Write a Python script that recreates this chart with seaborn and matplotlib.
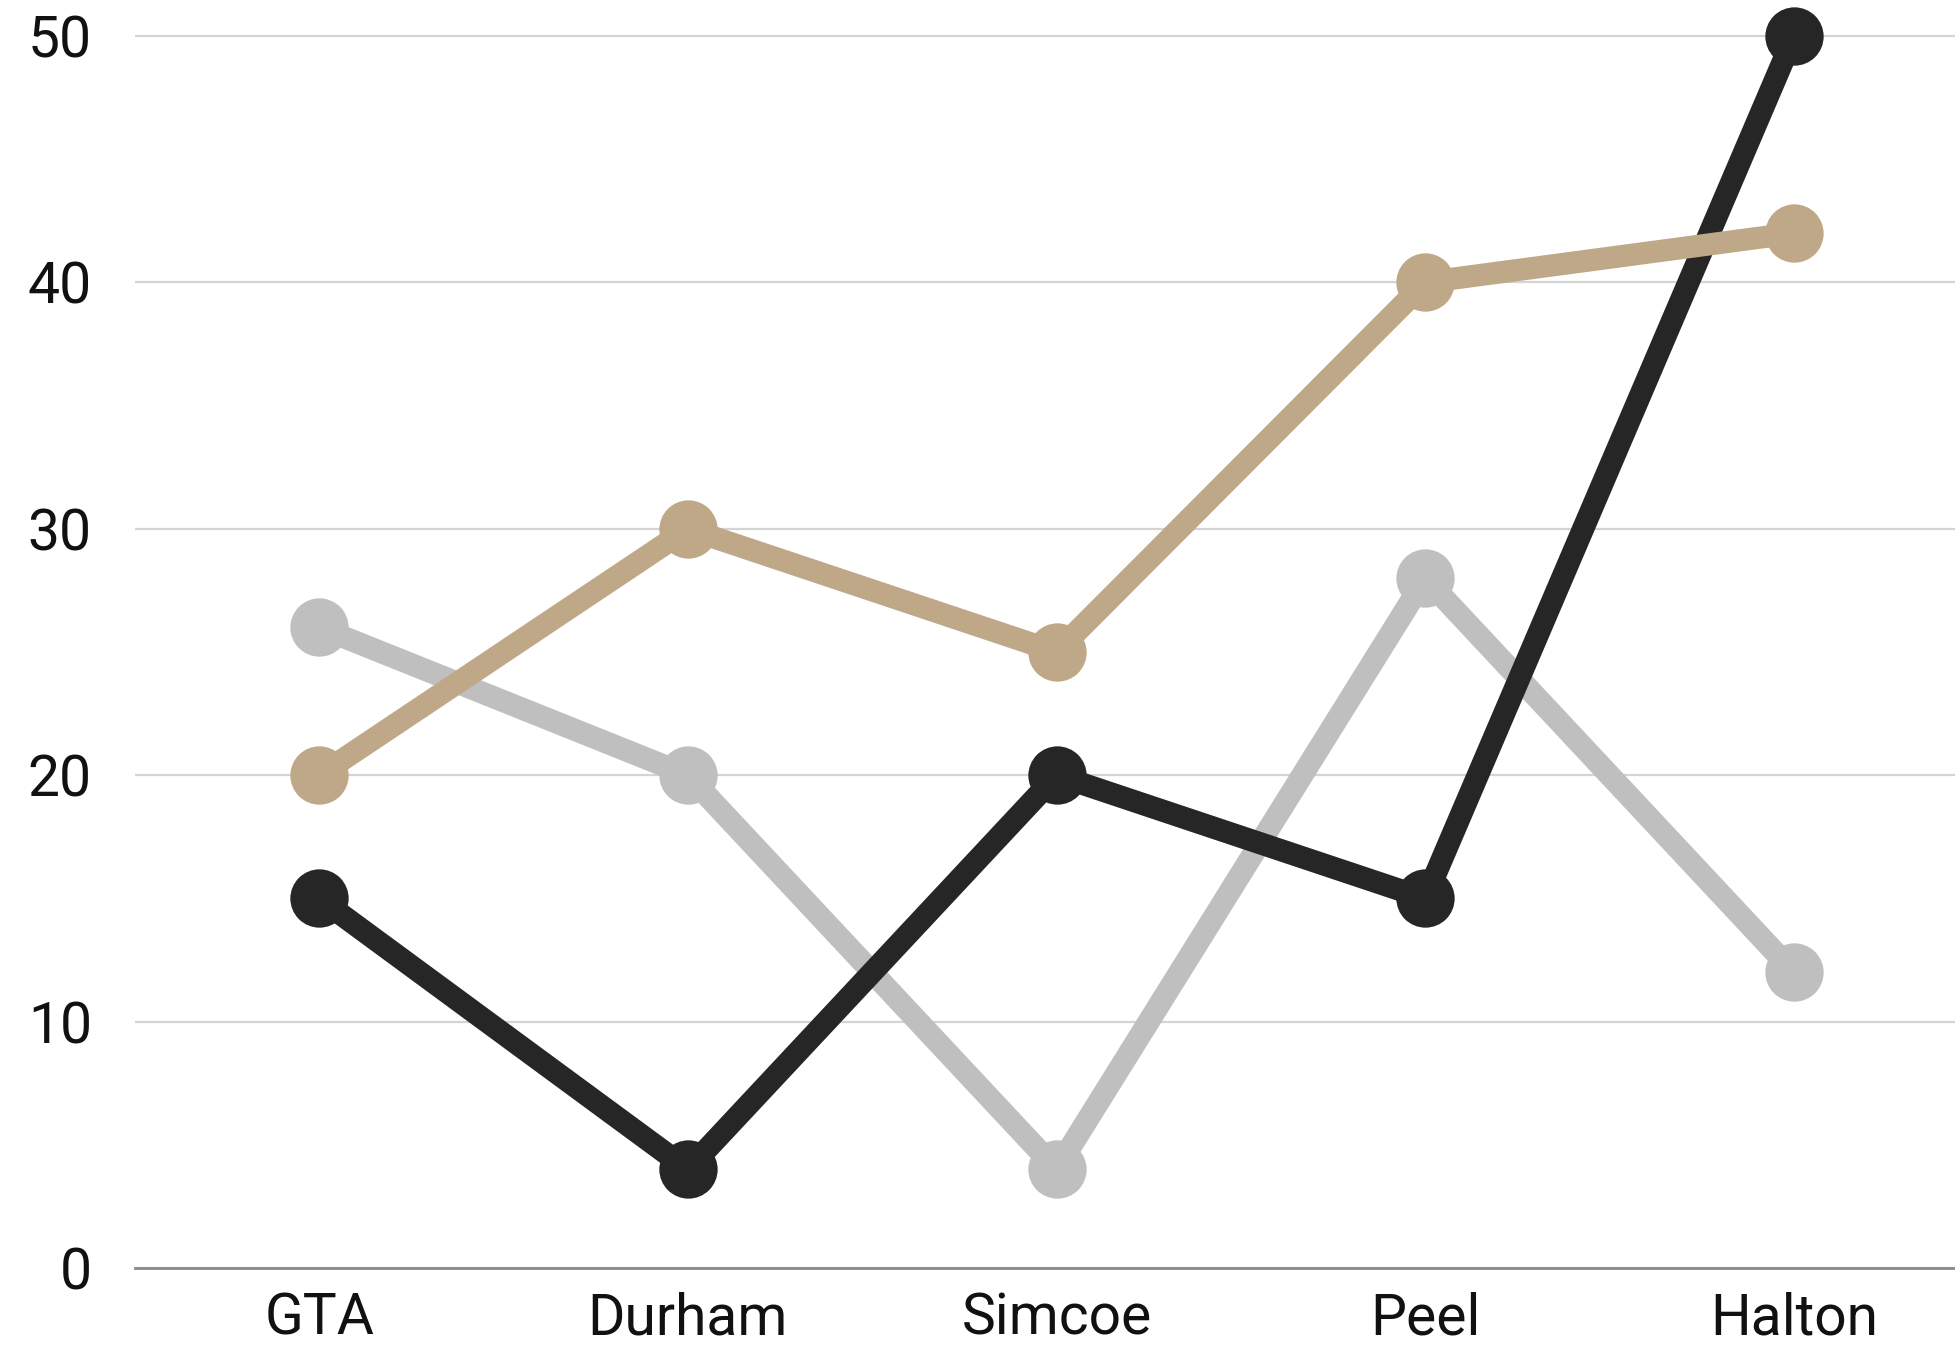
import matplotlib
matplotlib.use("Agg")
import matplotlib.pyplot as plt
import seaborn as sns
import pandas as pd

regions = ["GTA", "Durham", "Simcoe", "Peel", "Halton"]
series_gray = [26, 20, 4, 28, 12]
series_black = [15, 4, 20, 15, 50]
series_tan = [20, 30, 25, 40, 42]

series_names = ["Gray", "Black", "Tan"]
palette = {"Gray": "#bfbfbf", "Black": "#262626", "Tan": "#bfa888"}

frames = []
for name, vals in zip(series_names, [series_gray, series_black, series_tan]):
    frames.append(pd.DataFrame({"region": regions, "value": vals, "series": name}))
df = pd.concat(frames, ignore_index=True)
df["pos"] = df["region"].map({r: i for i, r in enumerate(regions)})

sns.set_theme(style="white")
plt.rcParams["font.family"] = ["Roboto", "DejaVu Sans"]

fig = plt.figure(figsize=(19.56, 13.47), dpi=100)
ax = fig.add_axes([135 / 1956, 79 / 1347, 1 - 135 / 1956, 1 - 79 / 1347])

ax.yaxis.grid(True, color="#d4d4d4", linewidth=1.6)
ax.set_axisbelow(True)

sns.lineplot(
    data=df, x="pos", y="value", hue="series", hue_order=series_names,
    palette=palette, marker="o", legend=False, ax=ax, sort=False,
)
for line in ax.get_lines():
    line.set_linewidth(16)
    line.set_markersize(42)
    line.set_markeredgewidth(0)
    line.set_solid_capstyle("butt")

ax.set_xlim(-0.5, 4.44)
ax.set_ylim(0, 51.46)
ax.set_xticks(range(len(regions)))
ax.set_xticklabels(regions)
ax.set_yticks([0, 10, 20, 30, 40, 50])
ax.set_xlabel("")
ax.set_ylabel("")

for side in ["top", "right", "left"]:
    ax.spines[side].set_visible(False)
ax.spines["bottom"].set_color("#8a8a8a")
ax.spines["bottom"].set_linewidth(2)

ax.tick_params(axis="y", length=0, pad=31, labelsize=41, labelcolor="#111111")
ax.tick_params(axis="x", length=0, pad=17, labelsize=41, labelcolor="#111111")

fig.savefig("out.png", dpi=100, facecolor="white")
